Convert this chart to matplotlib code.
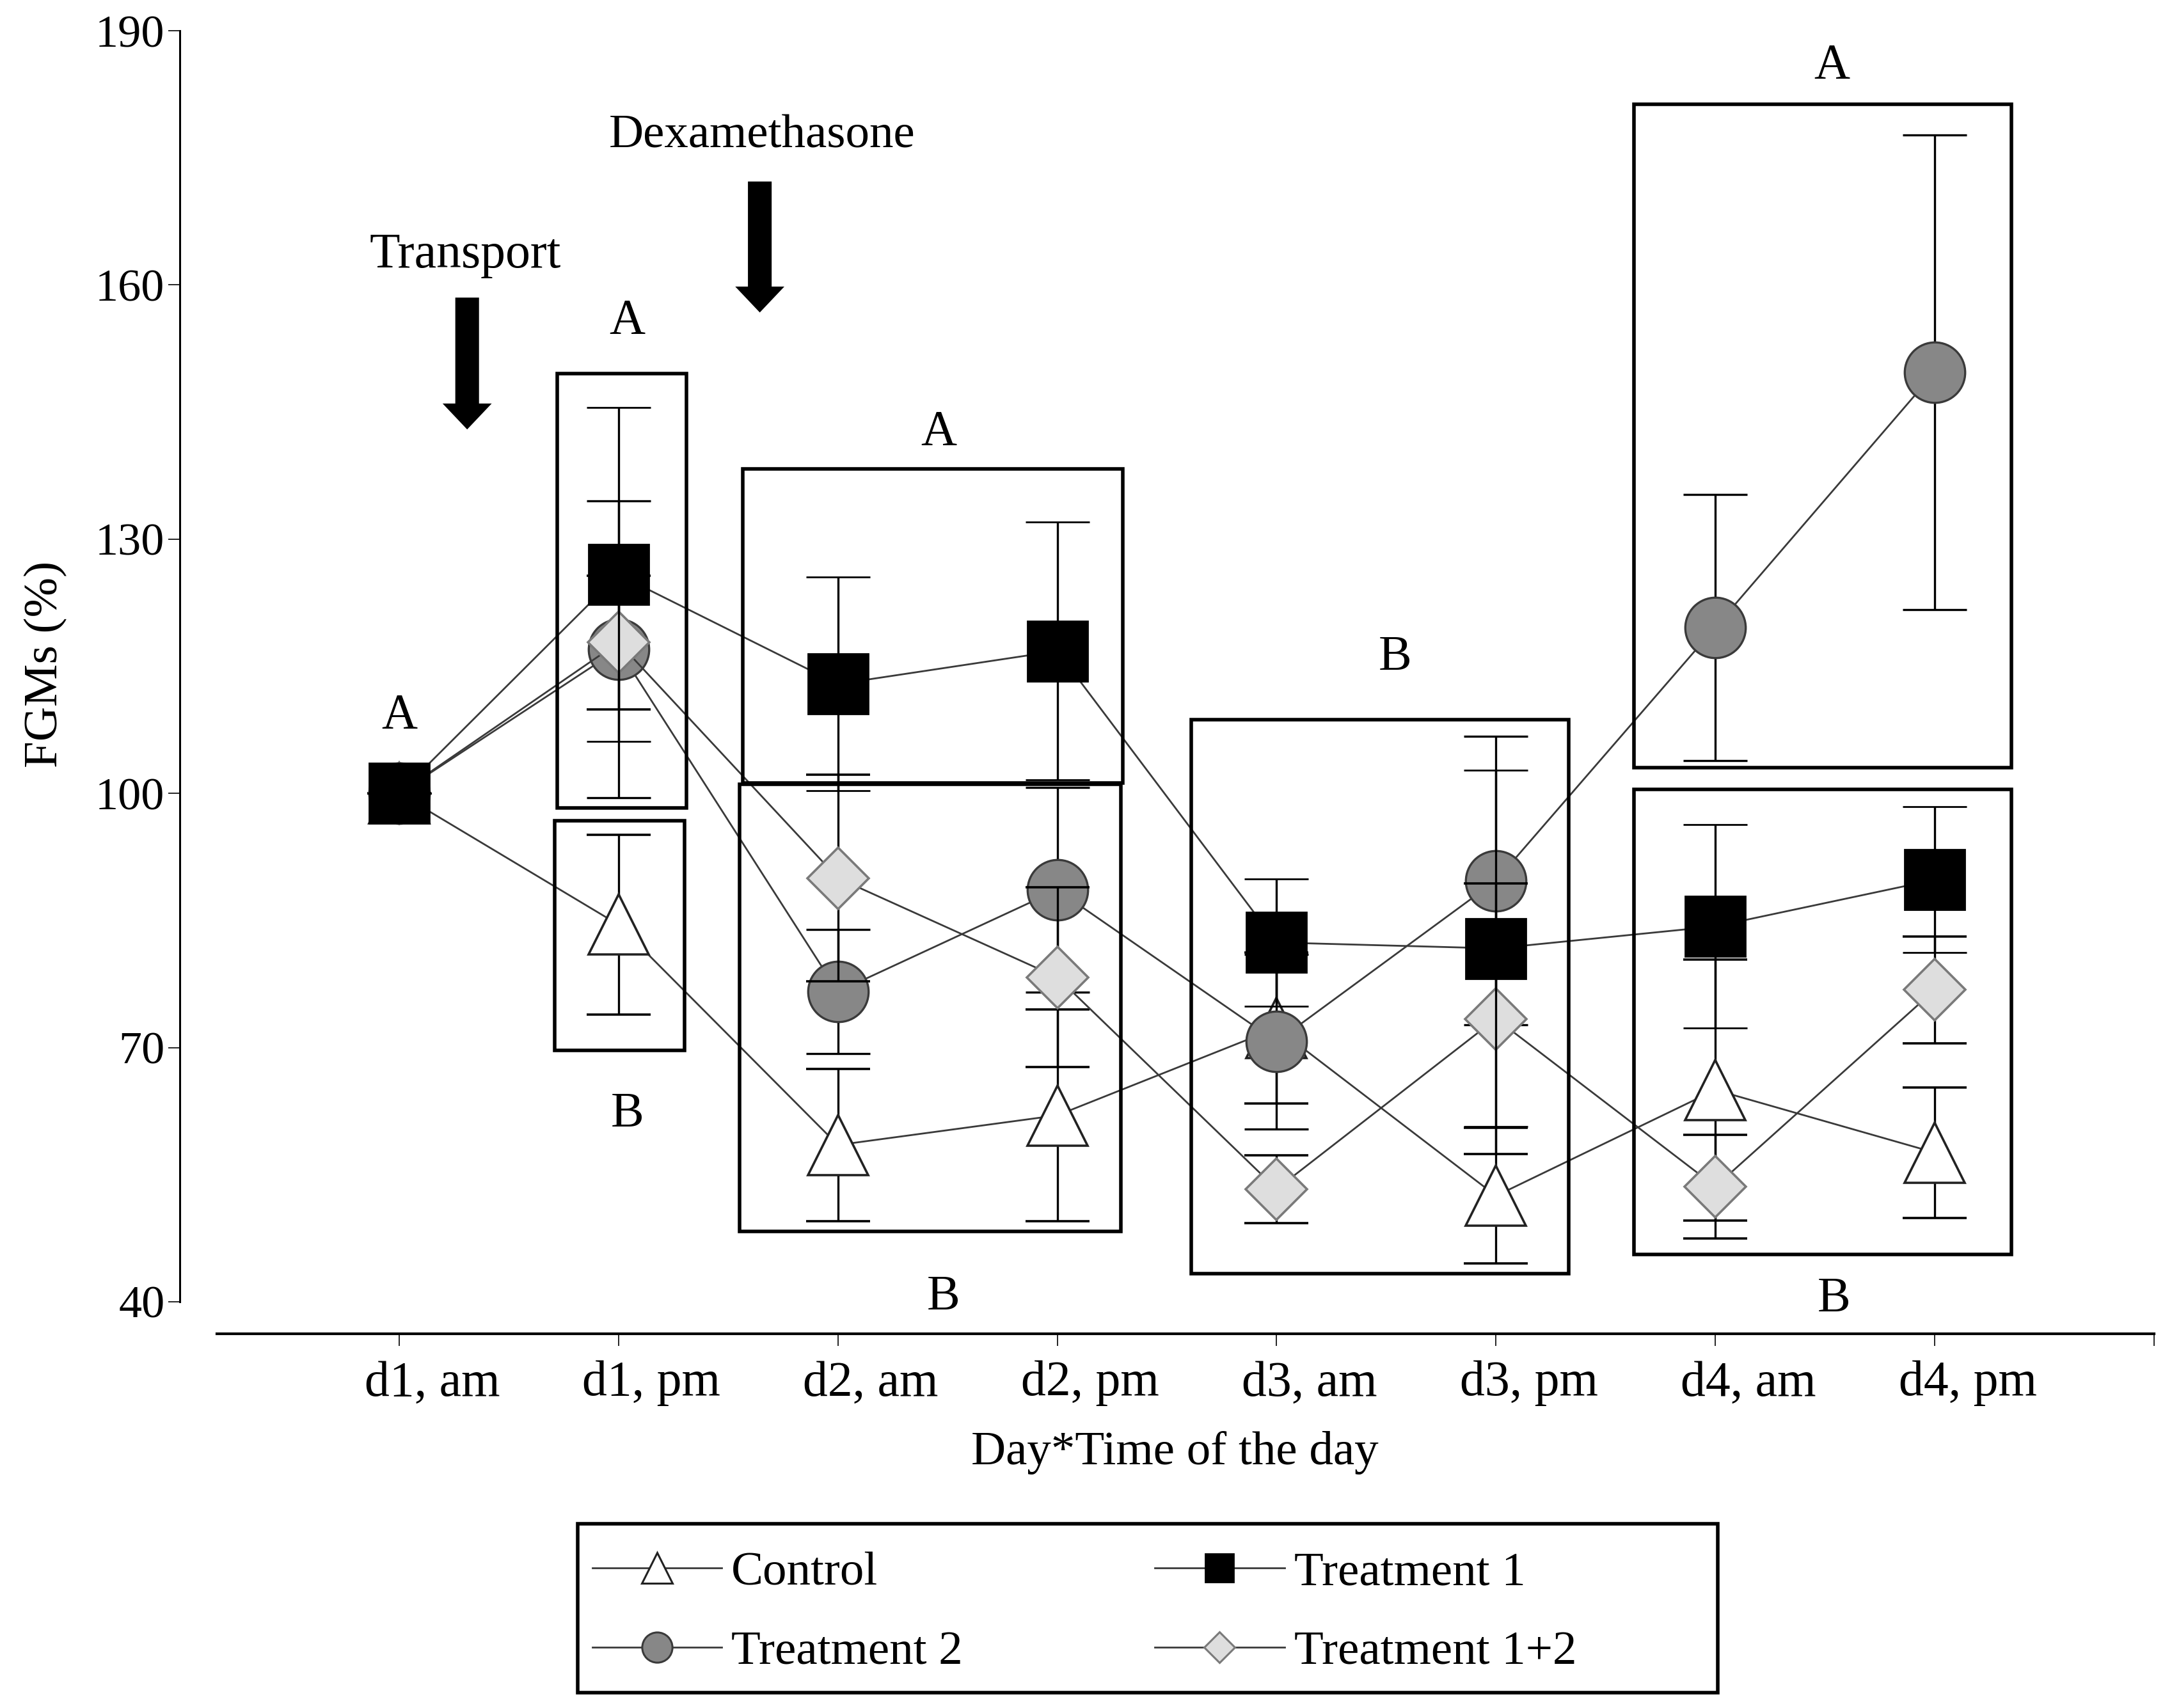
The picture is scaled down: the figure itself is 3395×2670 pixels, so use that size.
import matplotlib
matplotlib.use('Agg')
from matplotlib import pyplot as plt
from matplotlib.patches import Rectangle, FancyArrow
from matplotlib.lines import Line2D

plt.rcParams['font.family'] = ['Liberation Serif', 'DejaVu Serif']

# x categories
labels = ['d1, am', 'd1, pm', 'd2, am', 'd2, pm', 'd3, am', 'd3, pm', 'd4, am', 'd4, pm']

# means (% of d1 am) and error bars
control = [100, 84.5, 58.5, 62.0, 72.3, 52.5, 65.0, 57.6]
control_err = [0, 10.6, 9.0, 12.5, 8.9, 8.0, 15.4, 7.7]
treat1 = [100, 125.8, 112.9, 116.8, 82.4, 81.7, 84.3, 89.8]
treat1_err = [0, 19.7, 12.6, 15.2, 7.5, 21.0, 12.0, 8.6]
treat2 = [100, 117.0, 76.6, 88.6, 70.7, 89.7, 119.6, 149.7]
treat2_err = [0, 17.5, 7.3, 12.1, 10.3, 17.0, 15.7, 28.0]
treat12 = [100, 117.8, 90.0, 78.3, 53.3, 73.4, 53.6, 76.8]
treat12_err = [0, 7.9, 12.2, 10.6, 4.0, 16.0, 6.1, 6.3]

# significance boxes: (x0, x1, y0, y1) and letters (x, y, text)
boxes = [(0.72, 1.31, 98.3, 149.5), (0.71, 1.30, 69.7, 96.8),
         (1.565, 3.30, 101.2, 138.3), (1.553, 3.29, 48.3, 101.1),
         (3.61, 5.33, 43.3, 108.7),
         (5.63, 7.35, 103.0, 181.3), (5.63, 7.35, 45.6, 100.5)]
letters = [(0.0, 109.1, 'A'), (1.04, 155.7, 'A'), (1.04, 62.1, 'B'),
           (2.46, 142.6, 'A'), (2.48, 40.5, 'B'), (4.54, 116.0, 'B'),
           (6.53, 185.8, 'A'), (6.54, 40.3, 'B')]

fig = plt.figure(figsize=(16.975, 13.35), dpi=200)
ax = fig.add_axes([0.08277, 0.21899, 0.909, 0.76303])

x = list(range(len(labels)))
line_c = '#3a3a3a'

styles = [
    ('Control', control, control_err, dict(marker='^', ms=34, mfc='white', mec='#222222', mew=1.3)),
    ('Treatment 2', treat2, treat2_err, dict(marker='o', ms=34, mfc='#878787', mec='#3a3a3a', mew=1.2)),
    ('Treatment 1+2', treat12, treat12_err, dict(marker='D', ms=24.5, mfc='#dedede', mec='#7a7a7a', mew=1.3)),
    ('Treatment 1', treat1, treat1_err, dict(marker='s', ms=34, mfc='black', mec='black', mew=1.0)),
]
for i, (name, y, e, st) in enumerate(styles):
    ax.errorbar(x, y, yerr=e, color=line_c, lw=1.0, ecolor='black', elinewidth=1.2,
                capsize=18, capthick=1.2, zorder=2 + i, **st)

for (x0, x1, y0, y1) in boxes:
    ax.add_patch(Rectangle((x0, y0), x1 - x0, y1 - y0, fill=False, lw=2.0,
                           edgecolor='black', zorder=10, clip_on=False))
for (lx, ly, t) in letters:
    ax.text(lx, ly, t, fontsize=28, ha='center', va='center', zorder=11)

# treatment arrows
ax.text(0.30, 163.5, 'Transport', fontsize=28, ha='center', va='center')
ax.add_patch(FancyArrow(0.31, 158.4, 0, 143.1 - 158.4, width=0.10, head_width=0.205,
                        head_length=2.8, length_includes_head=True, color='black'))
ax.text(1.655, 177.6, 'Dexamethasone', fontsize=27, ha='center', va='center')
ax.add_patch(FancyArrow(1.644, 172.1, 0, 156.9 - 172.1, width=0.10, head_width=0.205,
                        head_length=2.8, length_includes_head=True, color='black'))

ax.set_xlim(-1, 8)
ax.set_ylim(36.2, 190)
for s in ['top', 'right']:
    ax.spines[s].set_visible(False)
ax.spines['left'].set_bounds(40, 190)
ax.spines['left'].set_linewidth(1.1)
ax.spines['bottom'].set_bounds(-0.83, 8)
ax.spines['bottom'].set_linewidth(1.5)

ax.set_yticks([40, 70, 100, 130, 160, 190])
ax.tick_params(axis='y', direction='out', length=6.5, width=0.6, pad=2, labelsize=26)
ax.set_xticks(list(range(0, 9)))
ax.set_xticklabels([])
ax.tick_params(axis='x', which='major', direction='out', length=7, width=0.6)
ax.set_xticks([i + 0.15 for i in x], minor=True)
ax.set_xticklabels(labels, minor=True)
ax.tick_params(axis='x', which='minor', length=0, pad=15, labelsize=28)

ax.set_ylabel('FGMs (%)', fontsize=27)
ax.yaxis.set_label_coords(-0.057, 0.514)
ax.set_xlabel('Day*Time of the day', fontsize=27, va='center')
ax.xaxis.set_label_coords(0.504, -0.091)

# legend (frame drawn separately)
handles = [
    Line2D([], [], color=line_c, lw=1.0, marker='^', ms=17, mfc='white', mec='#222222', mew=1.1),
    Line2D([], [], color=line_c, lw=1.0, marker='o', ms=17, mfc='#878787', mec='#3a3a3a', mew=1.1),
    Line2D([], [], color=line_c, lw=1.0, marker='s', ms=16, mfc='black', mec='black'),
    Line2D([], [], color=line_c, lw=1.0, marker='D', ms=12, mfc='#dedede', mec='#7a7a7a', mew=1.1),
]
names = ['Control', 'Treatment 2', 'Treatment 1', 'Treatment 1+2']
fig.legend(handles, names, loc='upper left', bbox_to_anchor=(0.2727, 0.0918), ncol=2,
           frameon=False, fontsize=27, handlelength=2.7, handletextpad=0.2,
           columnspacing=4.0, labelspacing=0.74, borderpad=0, borderaxespad=0)
fig.patches.append(Rectangle((0.266, 0.009), 0.525, 0.099, transform=fig.transFigure,
                             fill=False, lw=2.0, edgecolor='black'))

fig.savefig('out.png', dpi=200)
